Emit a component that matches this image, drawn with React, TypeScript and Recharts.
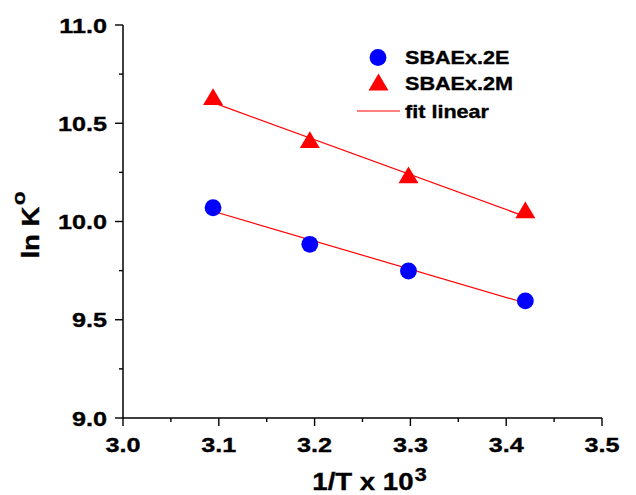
import React from "react";
import { ComposedChart, XAxis, YAxis, Scatter, Line, Label } from "recharts";

// ---- data ----
const xValues = [3.094, 3.195, 3.298, 3.42];
const sbaEx2E = [10.07, 9.884, 9.748, 9.596];
const sbaEx2M = [10.635, 10.416, 10.237, 10.059];
const fitX = [3.094, 3.42];
const fit2E = [10.052, 9.585];
const fit2M = [10.605, 10.025];
const xTicks = [3.0, 3.05, 3.1, 3.15, 3.2, 3.25, 3.3, 3.35, 3.4, 3.45, 3.5];
const yTicks = [9.0, 9.25, 9.5, 9.75, 10.0, 10.25, 10.5, 10.75, 11.0];
const legendNames = ["SBAEx.2E", "SBAEx.2M", "fit linear"];

const dataE = xValues.map((x, i) => ({ x, y: sbaEx2E[i] }));
const dataM = xValues.map((x, i) => ({ x, y: sbaEx2M[i] }));
const fitDataE = fitX.map((x, i) => ({ x, y: fit2E[i] }));
const fitDataM = fitX.map((x, i) => ({ x, y: fit2M[i] }));

const FONT = "'Liberation Sans', Arial, Helvetica, sans-serif";
const SX = 1.2;
const TICK = 8;
const BLUE = "#0000ff";
const RED = "#ff0000";

const boldText = {
  fontFamily: FONT,
  fontWeight: "bold" as const,
  fill: "#000",
  stroke: "#000",
  strokeWidth: 0.35,
};

const isMajor = (v: number, step: number) =>
  Math.abs(v / step - Math.round(v / step)) < 1e-6;

const XTick = (props: any) => {
  const { x, y, payload } = props;
  const ay = y - TICK;
  const v = payload.value as number;
  const major = isMajor(v, 0.1);
  return (
    <g>
      <line x1={x} x2={x} y1={ay} y2={ay + (major ? 8 : 4)} stroke="#000" strokeWidth={1.4} />
      {major && (
        <text
          transform={`translate(${x},${ay + 34}) scale(${SX},1)`}
          textAnchor="middle"
          fontSize={21}
          {...boldText}
        >
          {v.toFixed(1)}
        </text>
      )}
    </g>
  );
};

const YTick = (props: any) => {
  const { x, y, payload } = props;
  const ax = x + TICK;
  const v = payload.value as number;
  const major = isMajor(v, 0.5);
  return (
    <g>
      <line x1={ax} x2={ax - (major ? 8 : 4)} y1={y} y2={y} stroke="#000" strokeWidth={1.4} />
      {major && (
        <text
          transform={`translate(${ax - 16},${y + 7.5}) scale(${SX},1)`}
          textAnchor="end"
          fontSize={21}
          {...boldText}
        >
          {v.toFixed(1)}
        </text>
      )}
    </g>
  );
};

const YTitle = (props: any) => {
  const vb = props.viewBox || { x: 0, y: 25, width: 123, height: 393 };
  const cx = vb.x + 39;
  const cy = vb.y + 200;
  return (
    <text
      transform={`translate(${cx},${cy}) rotate(-90) scale(${SX},1)`}
      textAnchor="middle"
      fontSize={23}
      {...boldText}
    >
      ln K
      <tspan fontSize={19} dy={-14} dx={1}>o</tspan>
    </text>
  );
};

const XTitle = (props: any) => {
  const vb = props.viewBox || { x: 123, y: 418, width: 479, height: 77 };
  const cx = vb.x + vb.width / 2 + 7;
  const cy = vb.y + 72;
  return (
    <text
      transform={`translate(${cx},${cy}) scale(${SX},1)`}
      textAnchor="middle"
      fontSize={23}
      {...boldText}
    >
      1/T x 10
      <tspan fontSize={18} dy={-9} dx={1}>3</tspan>
    </text>
  );
};

const circleShape = (p: any) => <circle cx={p.cx} cy={p.cy} r={8.4} fill={BLUE} />;
const triangleShape = (p: any) => (
  <polygon
    points={`${p.cx},${p.cy - 8.5} ${p.cx - 10},${p.cy + 8.3} ${p.cx + 10},${p.cy + 8.3}`}
    fill={RED}
  />
);

const LegendBox = () => {
  const tx = 405;
  return (
    <g>
      <circle cx={378} cy={57.5} r={8.4} fill={BLUE} />
      <text transform={`translate(${tx},64) scale(${SX},1)`} fontSize={18} {...boldText}>{legendNames[0]}</text>
      <polygon points={`378.5,73.5 368.5,90.5 388.5,90.5`} fill={RED} />
      <text transform={`translate(${tx},90) scale(${SX},1)`} fontSize={18} {...boldText}>{legendNames[1]}</text>
      <line x1={357} x2={400} y1={111} y2={111} stroke={RED} strokeWidth={1.2} />
      <text transform={`translate(${tx},118) scale(${SX},1)`} fontSize={18} {...boldText}>{legendNames[2]}</text>
    </g>
  );
};

export default function App() {
  return (
    <div style={{ position: "absolute", left: 0, top: 0, width: 636, height: 495, background: "#fff" }}>
      <ComposedChart width={636} height={495} margin={{ top: 25, right: 34, left: 0, bottom: 0 }}>
        <XAxis
          type="number"
          dataKey="x"
          domain={[3.0, 3.5]}
          ticks={xTicks}
          interval={0}
          allowDataOverflow
          height={77}
          tickSize={TICK}
          tickMargin={0}
          tickLine={false}
          axisLine={{ stroke: "#000", strokeWidth: 1.5 }}
          tick={<XTick />}
        >
          <Label content={<XTitle />} />
        </XAxis>
        <YAxis
          type="number"
          dataKey="y"
          domain={[9.0, 11.0]}
          ticks={yTicks}
          interval={0}
          allowDataOverflow
          width={123}
          tickSize={TICK}
          tickMargin={0}
          tickLine={false}
          axisLine={{ stroke: "#000", strokeWidth: 1.5 }}
          tick={<YTick />}
        >
          <Label content={<YTitle />} />
        </YAxis>
        <Scatter name="SBAEx.2E" data={dataE} dataKey="y" shape={circleShape} isAnimationActive={false} />
        <Scatter name="SBAEx.2M" data={dataM} dataKey="y" shape={triangleShape} isAnimationActive={false} />
        <Line data={fitDataE} dataKey="y" type="linear" stroke={RED} strokeWidth={1.2} dot={false} activeDot={false} isAnimationActive={false} />
        <Line data={fitDataM} dataKey="y" type="linear" stroke={RED} strokeWidth={1.2} dot={false} activeDot={false} isAnimationActive={false} />
        <LegendBox />
      </ComposedChart>
    </div>
  );
}
